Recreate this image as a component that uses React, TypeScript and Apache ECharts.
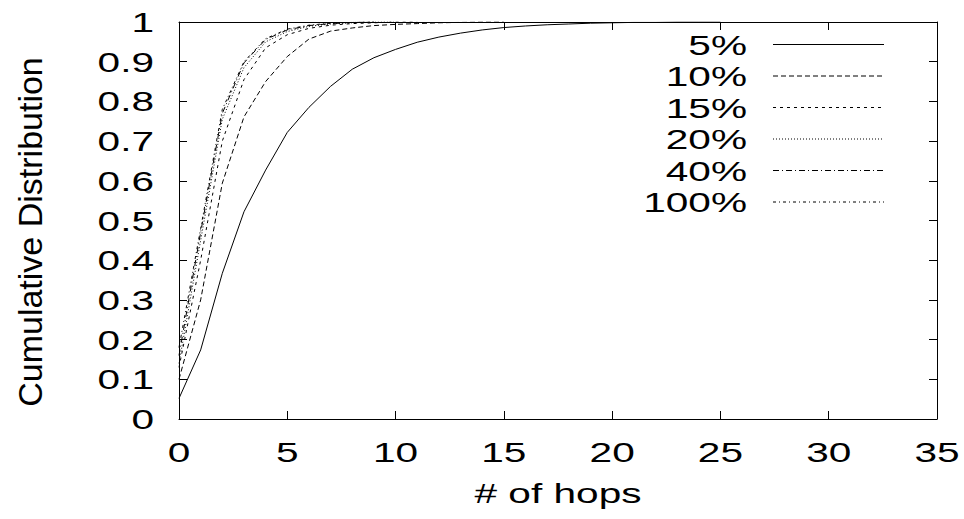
import React, { useEffect, useRef } from "react";
import * as echarts from "echarts";

// Cumulative distribution of hop counts, one curve per percentage
const seriesNames = ["5%", "10%", "15%", "20%", "40%", "100%"];
const cdf5 = [0.052, 0.174, 0.367, 0.522, 0.627, 0.722, 0.785, 0.838, 0.881, 0.910, 0.931, 0.949, 0.962, 0.972, 0.980, 0.986, 0.990, 0.993, 0.995, 0.997, 0.998, 0.999, 0.999, 1.0, 1.0, 1.0];
const cdf10 = [0.100, 0.300, 0.594, 0.761, 0.850, 0.913, 0.957, 0.977, 0.985, 0.991, 0.994, 0.996, 0.998, 0.999, 1.0, 1.0];
const cdf15 = [0.130, 0.400, 0.700, 0.855, 0.935, 0.968, 0.984, 0.992, 0.996, 0.998, 1.0, 1.0];
const cdf20 = [0.140, 0.450, 0.755, 0.885, 0.950, 0.976, 0.989, 0.995, 0.998, 1.0, 1.0];
const cdf40 = [0.160, 0.470, 0.770, 0.897, 0.956, 0.980, 0.991, 0.996, 0.999, 1.0];
const cdf100 = [0.180, 0.480, 0.780, 0.900, 0.958, 0.982, 0.992, 0.997, 0.999, 1.0];

const hopTicks = ["0", "5", "10", "15", "20", "25", "30", "35"];
const cdfTicks = ["0", "0.1", "0.2", "0.3", "0.4", "0.5", "0.6", "0.7", "0.8", "0.9", "1"];

const lineDashes: (number[] | null)[] = [null, [5, 3], [3, 4], [1, 2], [6, 3, 1, 3], [3, 3, 1, 3]];

const FONT = "'Liberation Sans', Arial, Helvetica, sans-serif";
const WIDE = 1.45;

export default function App() {
  const ref = useRef<HTMLDivElement>(null);

  useEffect(() => {
    const chart = echarts.init(ref.current!, null, { renderer: "svg" });
    const curves = [cdf5, cdf10, cdf15, cdf20, cdf40, cdf100];

    const frameAxis = (extra: any) => ({
      type: "value",
      axisLine: { show: true, onZero: false, lineStyle: { color: "#000", width: 1 } },
      axisTick: { show: true, inside: true, length: 8, lineStyle: { color: "#000", width: 1 } },
      axisLabel: { show: false },
      splitLine: { show: false },
      ...extra,
    });

    chart.setOption({
      animation: false,
      grid: { left: 179, right: 27, top: 22, bottom: 100 },
      xAxis: [
        frameAxis({ min: 0, max: 35, interval: 5, position: "bottom" }),
        frameAxis({ min: 0, max: 35, interval: 5, position: "top" }),
      ],
      yAxis: [
        frameAxis({ min: 0, max: 1, interval: 0.1, position: "left" }),
        frameAxis({ min: 0, max: 1, interval: 0.1, position: "right" }),
      ],
      series: curves.map((c, i) => ({
        type: "line",
        name: seriesNames[i],
        data: c.map((v, h) => [h, v]),
        symbol: "none",
        showSymbol: false,
        silent: true,
        lineStyle: { color: "#000", width: 1, type: lineDashes[i] ?? "solid" },
      })),
    });

    const text = (x: number, y: number, s: string, align: string, size: number, scaleX = WIDE, rotation = 0) => ({
      type: "text",
      x,
      y,
      scaleX,
      rotation,
      silent: true,
      style: {
        text: s,
        fontSize: size,
        fontFamily: FONT,
        fill: "#000",
        align,
        verticalAlign: "middle",
        textAlign: align,
        textVerticalAlign: "middle",
      },
    });

    const graphics: any[] = [];
    const baseY = chart.convertToPixel({ yAxisIndex: 0 }, 0) as number;
    const leftX = chart.convertToPixel({ xAxisIndex: 0 }, 0) as number;
    const rightX = chart.convertToPixel({ xAxisIndex: 0 }, 35) as number;

    hopTicks.forEach((t) => {
      const px = chart.convertToPixel({ xAxisIndex: 0 }, Number(t)) as number;
      graphics.push(text(px, baseY + 33, t, "center", 28));
    });
    cdfTicks.forEach((t) => {
      const py = chart.convertToPixel({ yAxisIndex: 0 }, Number(t)) as number;
      graphics.push(text(leftX - 25, py, t, "right", 28));
    });

    // axis titles
    graphics.push(text((leftX + rightX) / 2, baseY + 74, "# of hops", "center", 28));
    graphics.push(text(30, 232, "Cumulative Distribution", "center", 34, 1, Math.PI / 2));

    // key, top right inside the frame
    seriesNames.forEach((name, i) => {
      const y = 44.5 + i * 31.5;
      graphics.push(text(747, y, name, "right", 28));
      graphics.push({
        type: "line",
        silent: true,
        shape: { x1: 773, y1: y, x2: 884, y2: y },
        style: { stroke: "#000", lineWidth: 1, lineDash: lineDashes[i] },
      });
    });

    chart.setOption({ graphic: { elements: graphics } });

    return () => chart.dispose();
  }, []);

  return (
    <div
      ref={ref}
      style={{ position: "fixed", left: 0, top: 0, width: 964, height: 519, background: "#fff" }}
    />
  );
}
